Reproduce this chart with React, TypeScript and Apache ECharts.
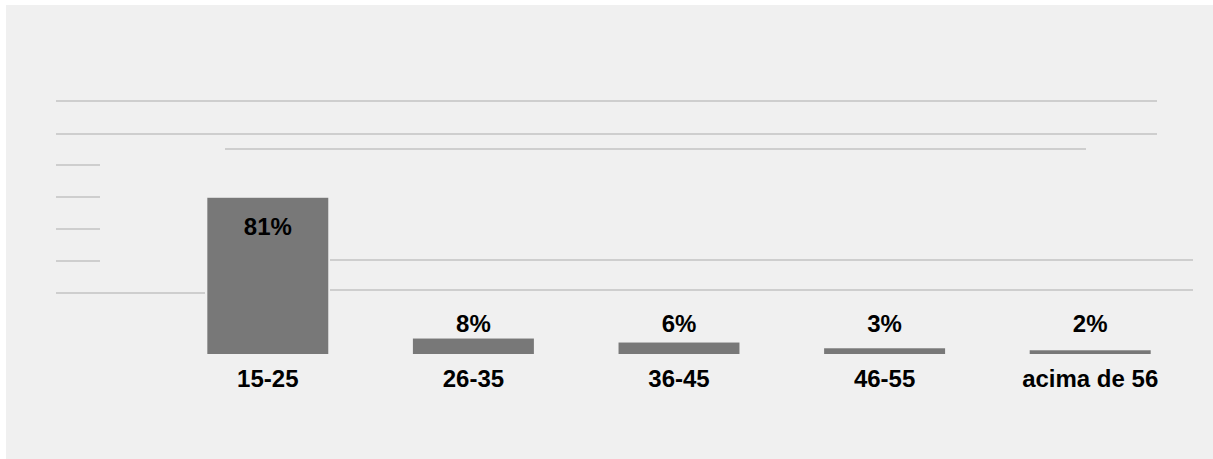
import React, { useEffect, useRef } from "react";
import * as echarts from "echarts";

const categories = ["15-25", "26-35", "36-45", "46-55", "acima de 56"];
const values = [81, 8, 6, 3, 2];
const valueLabels = ["81%", "8%", "6%", "3%", "2%"];

// decorative stray grid segments seen in the reference: [x1, y1, x2, y2]
const strayLines: number[][] = [
  [56, 101, 1157, 101],
  [56, 134, 1157, 134],
  [225, 149, 1086, 149],
  [56, 165, 100, 165],
  [56, 197, 100, 197],
  [56, 229, 100, 229],
  [56, 261, 100, 261],
  [56, 293, 205, 293],
  [330, 260, 1193, 260],
  [330, 290, 1193, 290],
];

export default function App() {
  const ref = useRef<HTMLDivElement>(null);
  useEffect(() => {
    if (!ref.current) return;
    const chart = echarts.init(ref.current, undefined, { renderer: "svg" });
    const font = "'Liberation Sans', Arial, sans-serif";
    chart.setOption({
      animation: false,
      backgroundColor: "#ffffff",
      graphic: [
        {
          type: "rect",
          z: -10,
          silent: true,
          shape: { x: 6, y: 5, width: 1213, height: 460 },
          style: { fill: "#f0f0f0" },
        },
        ...strayLines.map((l) => ({
          type: "line",
          z: -5,
          silent: true,
          shape: { x1: l[0], y1: l[1], x2: l[2], y2: l[3] },
          style: { stroke: "#c3c3c3", lineWidth: 1.5 },
        })),
      ],
      grid: { left: 165, right: 20, top: 161, bottom: 105, containLabel: false },
      xAxis: {
        type: "category",
        data: categories,
        axisLine: { show: false },
        axisTick: { show: false },
        axisLabel: {
          color: "#000",
          fontWeight: "bold",
          fontSize: 24,
          fontFamily: font,
          margin: 12,
        },
      },
      yAxis: {
        type: "value",
        min: 0,
        max: 100,
        show: false,
        splitLine: { show: false },
      },
      series: [
        {
          type: "bar",
          barWidth: 121,
          barGap: "-100%",
          silent: true,
          data: values,
          itemStyle: { color: "#ffffff", borderColor: "#ffffff", borderWidth: 4 },
          z: 1,
        },
        {
          type: "bar",
          barWidth: 121,
          barGap: "-100%",
          data: values.map((v, i) => ({
            value: v,
            label:
              i === 0
                ? { position: "insideTop", distance: 17 }
                : { position: "insideBottom", distance: 19 },
          })),
          itemStyle: { color: "#787878" },
          z: 2,
          label: {
            show: true,
            color: "#000",
            fontWeight: "bold",
            fontSize: 24,
            fontFamily: font,
            formatter: (p: any) => valueLabels[p.dataIndex],
          },
        },
      ],
    });
    return () => chart.dispose();
  }, []);
  return (
    <div
      ref={ref}
      style={{ position: "absolute", left: 0, top: 0, width: 1213, height: 459 }}
    />
  );
}
